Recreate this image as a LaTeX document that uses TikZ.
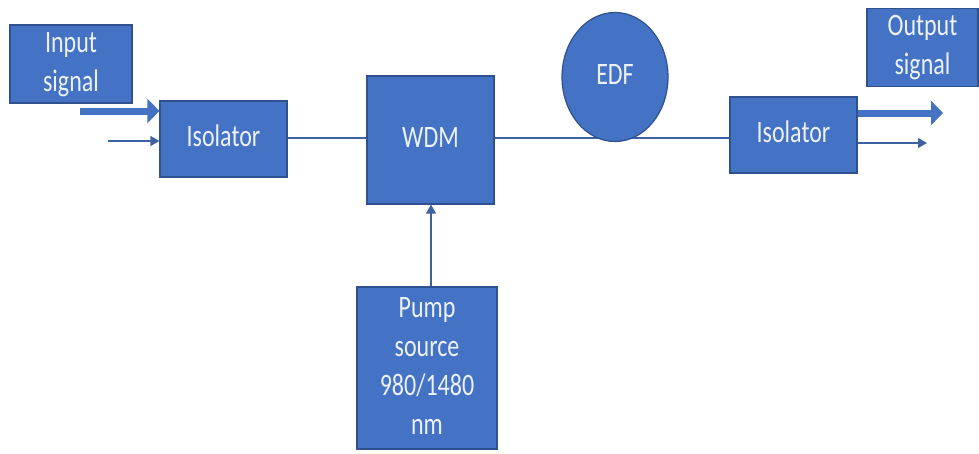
\documentclass[tikz,border=0pt]{standalone}
\usepackage{fontspec}
\usepackage{graphicx}
\setmainfont{Carlito}
\usetikzlibrary{arrows.meta,shapes.geometric,backgrounds}
\definecolor{boxfill}{RGB}{68,114,196}
\definecolor{boxedge}{RGB}{47,82,143}
\definecolor{wire}{RGB}{62,98,160}
\definecolor{txt}{RGB}{236,241,250}
\newcommand{\tl}[1]{\scalebox{1}[1.3]{\begin{tabular}{@{}c@{}}#1\end{tabular}}}
\tikzset{
  blk/.style={draw=boxedge, line width=1.2pt, fill=boxfill, text=txt, inner sep=0pt,
    font=\fontsize{24}{30}\selectfont},
  wireline/.style={draw=wire, line width=1.3pt},
  thinarrow/.style={wireline, -{Triangle[length=9pt,width=10pt]}},
  thickarrow/.style={draw=boxfill, line width=7pt, -{Triangle[length=12pt,width=24pt]}}
}
\begin{document}
\begin{tikzpicture}[x=1pt,y=-1pt]
\useasboundingbox (0,0) rectangle (979,453);
% blocks
\node[blk, minimum width=122, minimum height=74] (inp) at (71,64) {\tl{Input\\signal}};
\node[blk, minimum width=127, minimum height=76] (iso1) at (223.5,139) {\tl{Isolator}};
\node[blk, minimum width=127, minimum height=128] (wdm) at (430.5,140) {\tl{WDM}};
\node[blk, ellipse, minimum width=106, minimum height=129] (edf) at (615,77) {\tl{EDF}};
\node[blk, minimum width=127, minimum height=76] (iso2) at (793.5,135) {\tl{Isolator}};
\node[blk, minimum width=111, minimum height=69] (out) at (922.5,47.5) {\tl{Output\\signal}};
\node[blk, minimum width=140, minimum height=162] (pump) at (427,368) {\tl{Pump\\source\\980/1480\\nm}};
% free ends
\coordinate (inA) at (80,111);
\coordinate (inB) at (108,141);
\coordinate (outA) at (943,113);
\coordinate (outB) at (927,143);
\begin{scope}[on background layer]
\fill[white] (0,0) rectangle (979,453);
% connectors
\draw[thickarrow] (inA) -- (inA -| iso1.west);
\draw[thinarrow] (inB) -- (inB -| iso1.west);
\draw[wireline] (iso1.east |- 0,138) -- (wdm.west |- 0,138);
\draw[wireline] (wdm.east |- 0,138) -- (iso2.west |- 0,138);
\draw[thickarrow] (outA -| iso2.east) -- (outA);
\draw[thinarrow] (outB -| iso2.east) -- (outB);
\draw[thinarrow] (pump.north -| 431,0) -- (wdm.south -| 431,0);
\end{scope}
\end{tikzpicture}
\end{document}
